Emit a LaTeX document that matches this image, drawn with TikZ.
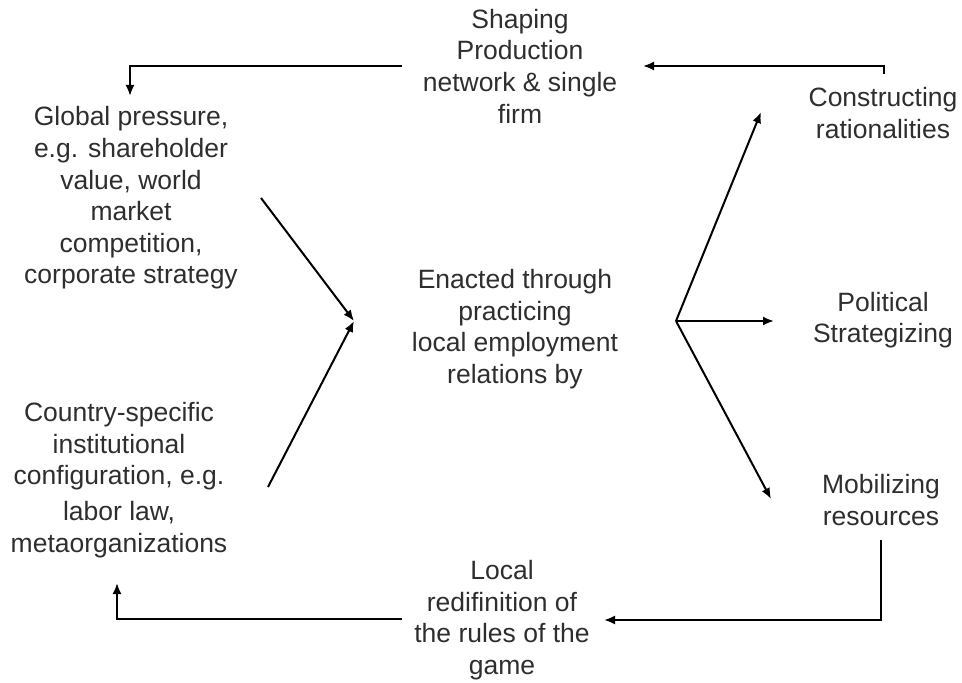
\documentclass[tikz,border=0pt]{standalone}
\usepackage{fontspec}
\setmainfont{Liberation Sans}
\usetikzlibrary{arrows.meta}
\begin{document}
\begin{tikzpicture}[x=1bp,y=-1bp,
  lbl/.style={align=center,inner sep=0pt,font=\fontsize{26.5bp}{31.6bp}\selectfont,text=black!82},
  conn/.style={line width=2bp,-{Latex[length=11bp,width=9bp]}}]
\useasboundingbox (0,0) rectangle (962,683);
% nodes
\node[lbl] (shape) at (520,66) {Shaping\\Production\\network \& single\\firm};
\node[lbl] (glob) at (131,198) {Global pressure,\\e.g. shareholder\\value, world\\market\\competition,\\corporate strategy};
\node[lbl] (ctry) at (119,480) {Country-specific\\institutional\\configuration, e.g.\\[4bp]labor law,\\metaorganizations};
\node[lbl] (enact) at (515,329) {Enacted through\\practicing\\local employment\\relations by};
\node[lbl] (cons) at (883,113) {Constructing\\rationalities};
\node[lbl] (pol) at (883,320) {Political\\Strategizing};
\node[lbl] (mob) at (881,500) {Mobilizing\\resources};
\node[lbl] (local) at (502,620) {Local\\redifinition of\\the rules of the\\game};
% coordinates
\coordinate (tlS) at (402,66);
\coordinate (tlB) at (130,66);
\coordinate (tlE) at (130,96);
\coordinate (trS) at (884,74);
\coordinate (trB) at (884,66);
\coordinate (trE) at (643,66);
\coordinate (gS) at (261,198);
\coordinate (cS) at (268,487);
\coordinate (mid) at (354,321);
\coordinate (br) at (676,321);
\coordinate (consE) at (761,112);
\coordinate (polE) at (774,321);
\coordinate (mobE) at (771,499);
\coordinate (mS) at (881,540);
\coordinate (mB) at (881,620);
\coordinate (mE) at (604,620);
\coordinate (blS) at (402,619);
\coordinate (blB) at (117,619);
\coordinate (blE) at (117,583);
% connectors
\draw[conn] (tlS) -- (tlB) -- (tlE);
\draw[conn] (trS) -- (trB) -- (trE);
\draw[conn] (gS) -- (mid);
\draw[conn] (cS) -- (mid);
\draw[conn] (br) -- (consE);
\draw[conn] (br) -- (polE);
\draw[conn] (br) -- (mobE);
\draw[conn] (mS) -- (mB) -- (mE);
\draw[conn] (blS) -- (blB) -- (blE);
\end{tikzpicture}
\end{document}
